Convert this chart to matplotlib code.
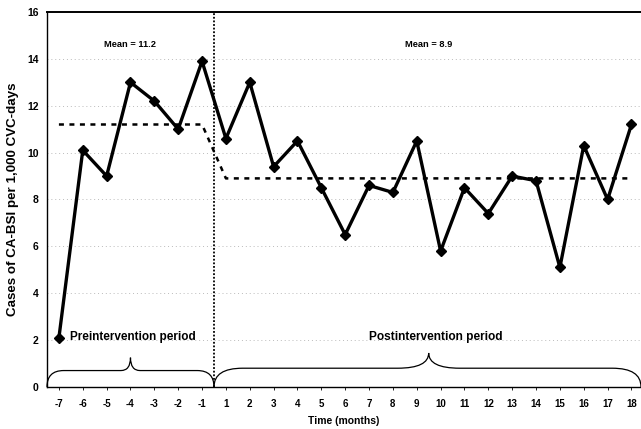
import matplotlib
matplotlib.use('Agg')

import matplotlib.pyplot as plt
import numpy as np
from matplotlib.path import Path
from matplotlib.patches import PathPatch

plt.rcParams['font.family'] = ['Liberation Sans', 'DejaVu Sans']
plt.rcParams['font.weight'] = 'bold'

months = [-7, -6, -5, -4, -3, -2, -1, 1, 2, 3, 4, 5, 6, 7, 8, 9, 10, 11, 12, 13, 14, 15, 16, 17, 18]
rates = [2.1, 10.1, 9.0, 13.0, 12.2, 11.0, 13.9,
         10.6, 13.0, 9.4, 10.5, 8.5, 6.5, 8.6, 8.3, 10.5, 5.8, 8.5, 7.4, 9.0, 8.8, 5.1, 10.3, 8.0, 11.2]
pre_mean = 11.2
post_mean = 8.9
n_pre = 7


def brace(ax, x0, x1, xm, h, tip, r_end, r_mid):
    verts = [(x0, 0), (x0, h), (x0 + r_end, h),
             (xm - r_mid, h),
             (xm, h), (xm, h + tip),
             (xm, h), (xm + r_mid, h),
             (x1 - r_end, h),
             (x1, h), (x1, 0)]
    codes = [Path.MOVETO, Path.CURVE3, Path.CURVE3,
             Path.LINETO,
             Path.CURVE3, Path.CURVE3,
             Path.CURVE3, Path.CURVE3,
             Path.LINETO,
             Path.CURVE3, Path.CURVE3]
    ax.add_patch(PathPatch(Path(verts, codes), fill=False, lw=0.9, color='black',
                           clip_on=False))


fig = plt.figure(figsize=(6.41, 4.29), dpi=100)
ax = fig.add_axes([0.0733, 0.098, 0.9267, 0.874])

x = np.arange(len(months))

for yv in range(2, 16, 2):
    ax.axhline(yv, color='#bbbbbb', lw=0.7, ls=(0, (1, 3)), zorder=0)

# mean lines, joined by a short drop at the intervention
mx = list(x[:n_pre]) + list(x[n_pre:])
my = [pre_mean] * n_pre + [post_mean] * (len(x) - n_pre)
ax.plot(mx, my, color='black', lw=1.8, ls=(0, (2, 2.2)), zorder=2)

ax.plot(x, rates, color='black', lw=2.4, marker='D', markersize=5, zorder=3)

ax.axvline(n_pre - 0.5, color='black', lw=1.3, ls=(0, (1, 1)), zorder=2)

brace(ax, -0.5, n_pre - 0.5, 3, 0.7, 0.55, 0.7, 0.4)
brace(ax, n_pre - 0.5, 24.4, 15.5, 0.8, 0.65, 1.2, 1.3)

ax.text(0.45, 2.15, 'Preintervention period', fontsize=8.5, fontweight='bold', va='center')
ax.text(15.8, 2.15, 'Postintervention period', fontsize=8.6, fontweight='bold',
        va='center', ha='center')
ax.text(3, 14.6, 'Mean = 11.2', fontsize=6.7, fontweight='bold', ha='center', va='center')
ax.text(15.5, 14.6, 'Mean = 8.9', fontsize=6.7, fontweight='bold', ha='center', va='center')

ax.set_xlim(-0.5, 24.4)
ax.set_ylim(0, 16)
ax.set_xticks(x)
ax.set_xticklabels([str(m) for m in months], fontsize=7, fontweight='bold')
ax.set_yticks(range(0, 17, 2))
ax.set_yticklabels([str(v) for v in range(0, 17, 2)], fontsize=7.5, fontweight='bold')
ax.tick_params(axis='x', length=2, width=0.6, pad=7)
ax.tick_params(axis='y', length=0, pad=6)

ax.spines['right'].set_visible(False)
ax.spines['top'].set_linewidth(1.4)
ax.spines['left'].set_linewidth(1.0)
ax.spines['bottom'].set_linewidth(1.0)

ax.set_xlabel('Time (months)', fontsize=7.5, fontweight='bold', labelpad=5)
ax.set_ylabel('Cases of CA-BSI per 1,000 CVC-days', fontsize=9.6, fontweight='bold', labelpad=6)

fig.savefig('out.png', dpi=100)
